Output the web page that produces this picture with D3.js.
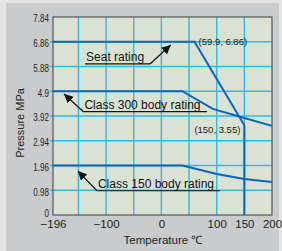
<!DOCTYPE html>
<html>
<head>
<meta charset="utf-8">
<script src="https://cdn.jsdelivr.net/npm/d3@7"></script>
<style>
  body { margin: 0; background: #e4e4e4; }
  svg { display: block; font-family: "Liberation Sans", Arial, sans-serif; }
</style>
</head>
<body>
<svg class="rating-chart" width="282" height="251"></svg>
<script>
// ---- data ----
var xTicks = [-196, -100, 0, 100, 150, 200];
var yTicks = [0, 0.98, 1.96, 2.94, 3.92, 4.9, 5.88, 6.86, 7.84];
var xGrid = [-150, -100, -50, 0, 50, 100, 150];
var yGrid = [0.98, 1.96, 2.94, 3.92, 4.9, 5.88, 6.86];

// [temperature, pressure]
var seatRating = [[-196, 6.86], [59.9, 6.86], [150, 3.55], [150, 0]];
var class300 = [[-196, 4.9], [38, 4.9], [93, 4.2], [150, 3.84], [200, 3.53]];
var class150 = [[-196, 1.96], [38, 1.96], [100, 1.62], [150, 1.43], [200, 1.31]];

// labels: text, underline start/end temperature, underline pressure, arrow tip
var labels = [
  {text: 'Seat rating', x0: -138, x1: -20.6, y: 5.98, tip: [16.8, 6.73]},
  {text: 'Class 300 body rating', x0: -141, x1: 82.5, y: 4.09, tip: [-176, 4.79], start: true},
  {text: 'Class 150 body rating', x0: -116.5, x1: 106, y: 0.96, tip: [-151, 1.74], start: true}
];

var svg = d3.select('svg.rating-chart');
var padding = {t: 17, r: 10, b: 36, l: 53};
var svgWidth = +svg.attr('width');
var svgHeight = +svg.attr('height');

var xScale = d3.scaleLinear().domain([-196, 200]).range([padding.l, svgWidth - padding.r]);
var yScale = d3.scaleLinear().domain([0, 7.84]).range([svgHeight - padding.b, padding.t]);

var x0 = xScale.range()[0], x1 = xScale.range()[1];
var y0 = yScale.range()[0], y1 = yScale.range()[1];

// background panel
svg.append('rect').attr('x', 6).attr('y', 3).attr('width', 273).attr('height', 248).attr('fill', '#c9cbcc');

// plot area
svg.append('rect')
  .attr('x', x0).attr('y', y1).attr('width', x1 - x0).attr('height', y0 - y1)
  .attr('fill', '#d9e3d3');

svg.append('defs').append('marker')
  .attr('id', 'head')
  .attr('viewBox', '0 0 10 10')
  .attr('refX', 10).attr('refY', 5)
  .attr('markerWidth', 9).attr('markerHeight', 9)
  .attr('markerUnits', 'userSpaceOnUse')
  .attr('orient', 'auto')
  .append('path').attr('d', 'M0,0 L10,5 L0,10 z').attr('fill', '#111');

// grid
svg.selectAll('line.vgrid')
  .data(xGrid).enter().append('line')
  .attr('class', 'vgrid')
  .attr('x1', function(d) { return xScale(d); }).attr('x2', function(d) { return xScale(d); })
  .attr('y1', y1).attr('y2', y0)
  .attr('stroke', '#2fbbe8').attr('stroke-width', 1.4);

svg.selectAll('line.hgrid')
  .data(yGrid).enter().append('line')
  .attr('class', 'hgrid')
  .attr('x1', x0 - 3).attr('x2', x1)
  .attr('y1', function(d) { return yScale(d); }).attr('y2', function(d) { return yScale(d); })
  .attr('stroke', '#2fbbe8').attr('stroke-width', 1.4);

// frame
svg.append('rect')
  .attr('x', x0).attr('y', y1).attr('width', x1 - x0).attr('height', y0 - y1)
  .attr('fill', 'none').attr('stroke', '#555').attr('stroke-width', 1.2);

// rating lines
var line = d3.line()
  .x(function(d) { return xScale(d[0]); })
  .y(function(d) { return yScale(d[1]); });

svg.selectAll('path.rating')
  .data([seatRating, class300, class150]).enter().append('path')
  .attr('class', 'rating')
  .attr('d', line)
  .attr('fill', 'none')
  .attr('stroke', '#0c63bb')
  .attr('stroke-width', 2);

// y axis (condensed digits like the original)
var yAxis = svg.append('g')
  .attr('transform', 'translate(' + x0 + ',0)')
  .call(d3.axisLeft(yScale).tickValues(yTicks).tickSize(0).tickPadding(4)
    .tickFormat(function(d) { return String(d); }));
yAxis.select('.domain').remove();
yAxis.selectAll('text')
  .attr('font-size', 11.5).attr('font-family', null).attr('fill', '#222')
  .attr('transform', 'scale(0.7,1)')
  .attr('x', -4 / 0.7)
  .attr('y', function(d) { return d === 0 ? -3 : 0; })
  .attr('dy', '0.42em');

// x axis
var xAxis = svg.append('g')
  .attr('transform', 'translate(0,' + y0 + ')')
  .call(d3.axisBottom(xScale).tickValues(xTicks).tickSize(0).tickPadding(5)
    .tickFormat(function(d) { return d < 0 ? '\u2212' + Math.abs(d) : String(d); }));
xAxis.select('.domain').remove();
xAxis.selectAll('text')
  .attr('font-size', 11.5).attr('font-family', null).attr('fill', '#222');

// axis titles
svg.append('text')
  .attr('transform', 'translate(24,123) rotate(-90)')
  .attr('text-anchor', 'middle')
  .attr('font-size', 11).attr('fill', '#222')
  .text('Pressure MPa');

svg.append('text')
  .attr('x', 163).attr('y', 244)
  .attr('text-anchor', 'middle')
  .attr('font-size', 11.5).attr('fill', '#222')
  .text('Temperature \u2103');

// point labels
svg.append('text')
  .attr('x', xScale(59.9) + 4).attr('y', yScale(6.86) + 3.5)
  .attr('font-size', 9.5).attr('fill', '#222')
  .text('(59.9, 6.86)');

svg.append('text')
  .attr('x', xScale(150) - 4).attr('y', yScale(3.55) + 7.5)
  .attr('text-anchor', 'end')
  .attr('font-size', 9.5).attr('fill', '#222')
  .text('(150, 3.55)');

// rating labels with underline + arrow
labels.forEach(function(d) {
  var ux0 = xScale(d.x0), ux1 = xScale(d.x1), uy = yScale(d.y);
  svg.append('text')
    .attr('x', ux0 + 1).attr('y', uy - 2.5)
    .attr('font-size', 12).attr('fill', '#111')
    .text(d.text);
  svg.append('line')
    .attr('x1', ux0).attr('x2', ux1).attr('y1', uy).attr('y2', uy)
    .attr('stroke', '#111').attr('stroke-width', 1.2);
  var sx = d.start ? ux0 : ux1;
  svg.append('line')
    .attr('x1', sx).attr('y1', uy)
    .attr('x2', xScale(d.tip[0])).attr('y2', yScale(d.tip[1]))
    .attr('stroke', '#111').attr('stroke-width', 1.2)
    .attr('marker-end', 'url(#head)');
});
</script>
</body>
</html>
